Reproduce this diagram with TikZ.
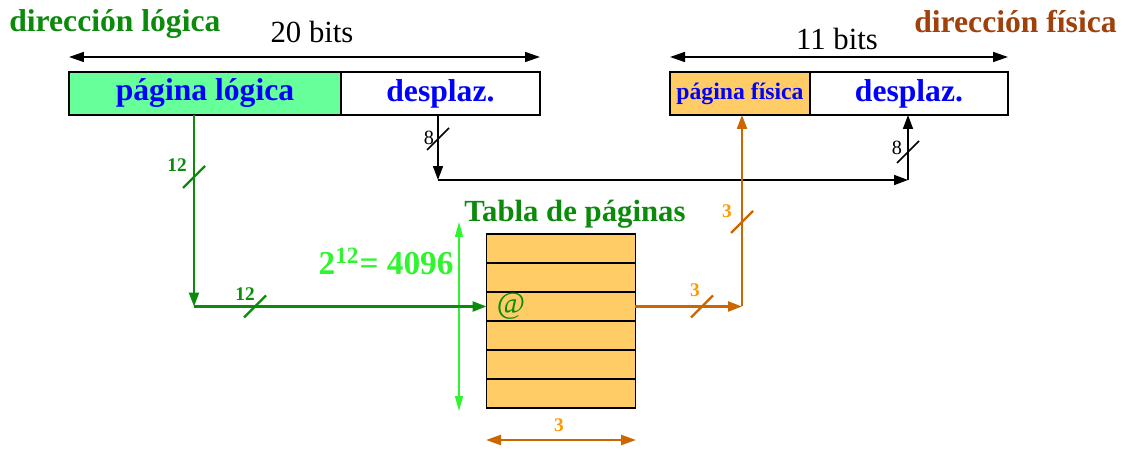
\documentclass[tikz,border=0pt]{standalone}
\usepackage{fontspec}
\setmainfont{Liberation Serif}
\usetikzlibrary{arrows.meta}

\definecolor{lgreen}{HTML}{66FF99}
\definecolor{tfill}{HTML}{FFCC66}
\definecolor{ggreen}{HTML}{0B8A0B}
\definecolor{bgreen}{HTML}{2EF52E}
\definecolor{brown}{HTML}{A0400A}
\definecolor{orline}{HTML}{CC6600}
\definecolor{orlab}{HTML}{FF9900}

% slash mark on a bus line
\newcommand{\busmark}[2]{\draw[#2] ([shift={(-11,11)}]#1) -- ([shift={(11,-11)}]#1);}

\begin{document}
\begin{tikzpicture}[x=0.02cm,y=-0.02cm,
  field/.style={draw=black,line width=1.1pt,minimum height=0.86cm,inner sep=0pt,outer sep=0pt,anchor=north west,text=blue,font=\bfseries\fontsize{18}{20}\selectfont},
  row/.style={draw=black,line width=1.1pt,fill=tfill,minimum width=2.98cm,minimum height=0.58cm,inner sep=0pt,outer sep=0pt},
  title/.style={anchor=base,inner sep=0pt,font=\bfseries\fontsize{18}{20}\selectfont},
  bits/.style={anchor=base,inner sep=0pt,font=\fontsize{17.5}{20}\selectfont},
  lab/.style={anchor=base,inner sep=0pt,font=\bfseries\fontsize{11}{12}\selectfont},
  labr/.style={anchor=base,inner sep=0pt,font=\fontsize{11.5}{12}\selectfont},
  tip/.style={-{Triangle[length=2.8mm,width=2mm]}},
  bdim/.style={{Triangle[length=3mm,width=2mm]}-{Triangle[length=3mm,width=2mm]},line width=0.9pt},
  barrow/.style={tip,line width=0.9pt,draw=black},
  garrow/.style={tip,line width=1.4pt,draw=ggreen},
  oarrow/.style={tip,line width=1.3pt,draw=orline},
  gdim/.style={{Triangle[length=3mm,width=1.6mm]}-{Triangle[length=3mm,width=1.6mm]},line width=0.8pt,draw=bgreen},
  odim/.style={{Triangle[length=3mm,width=2mm]}-{Triangle[length=3mm,width=2mm]},line width=1.3pt,draw=orline}
]
\useasboundingbox (0,0) rectangle (1127,449);

% logical address
\node[title,anchor=base west,text=ggreen] (tlog) at (9,32) {dirección lógica};
\node[field,fill=lgreen,minimum width=5.44cm] (plog) at (69,72) {página lógica};
\node[field,fill=white,minimum width=3.98cm] (dlog) at (plog.north east) {desplaz.};
\coordinate (bl1) at (69,57);
\coordinate (bl2) at (540,57);
\draw[bdim] (bl1) -- (bl2);
\node[bits] (b20) at (312,43) {20 bits};

% physical address
\node[title,anchor=base east,text=brown] (tfis) at (1117,33) {dirección física};
\node[field,fill=tfill,minimum width=2.8cm,font=\bfseries\fontsize{13.5}{15}\selectfont] (pfis) at (670,72) {página física};
\node[field,fill=white,minimum width=3.96cm] (dfis) at (pfis.north east) {desplaz.};
\coordinate (br1) at (670,57);
\coordinate (br2) at (1008,57);
\draw[bdim] (br1) -- (br2);
\node[bits] (b11) at (837,50) {11 bits};

% page table
\node[title,text=ggreen,font=\bfseries\fontsize{17.5}{20}\selectfont] (ttab) at (575,222) {Tabla de páginas};
\foreach \i in {1,...,6}
  \node[row] (r\i) at (561,{234+29*\i-14.5}) {};
\node[anchor=west,inner sep=0pt,text=ggreen,font=\fontsize{17.5}{18}\selectfont] (arroba) at ([xshift=0.2cm]r3.west) {@};
\coordinate (gd1) at (459,222);
\coordinate (gd2) at (459,411);
\draw[gdim] (gd1) -- (gd2);
\node[title,anchor=base east,text=bgreen,font=\bfseries\fontsize{19}{20}\selectfont] (n4096) at (454,275) {2\textsuperscript{12}= 4096};
\coordinate (od1) at (486,440);
\coordinate (od2) at (636,440);
\draw[odim] (od1) -- (od2);
\node[lab,text=orlab] (w3) at (559,432) {3};

% logical page -> table
\coordinate (gc) at (194,306.5);
\draw[garrow] (plog.south -| gc) -- (gc);
\draw[garrow] (gc) -- (r3.west);
\coordinate (gs1) at (194,177);
\coordinate (gs2) at (255,306.5);
\busmark{gs1}{ggreen,line width=1.4pt}
\busmark{gs2}{ggreen,line width=1.4pt}
\node[lab,text=ggreen] (n12a) at (177,172) {12};
\node[lab,text=ggreen] (n12b) at (245,301) {12};

% offset
\coordinate (kc1) at (438,180);
\coordinate (kc2) at (908,180);
\draw[barrow] (dlog.south -| kc1) -- (kc1);
\draw[barrow] (kc1) -- (kc2);
\draw[barrow] (kc2) -- (dfis.south -| kc2);
\coordinate (ks1) at (438,139);
\coordinate (ks2) at (908,152);
\busmark{ks1}{line width=0.9pt}
\busmark{ks2}{line width=0.9pt}
\node[labr] (n8a) at (429,145) {8};
\node[labr] (n8b) at (897,155) {8};

% table -> physical page
\coordinate (oc) at (742,306.5);
\draw[oarrow] (r3.east) -- (oc);
\draw[oarrow] (oc) -- (pfis.south -| oc);
\coordinate (os1) at (702,306.5);
\coordinate (os2) at (742,222);
\busmark{os1}{orline,line width=1.3pt}
\busmark{os2}{orline,line width=1.3pt}
\node[lab,text=orlab] (n3a) at (695,297) {3};
\node[lab,text=orlab] (n3b) at (727,218) {3};
\end{tikzpicture}
\end{document}
